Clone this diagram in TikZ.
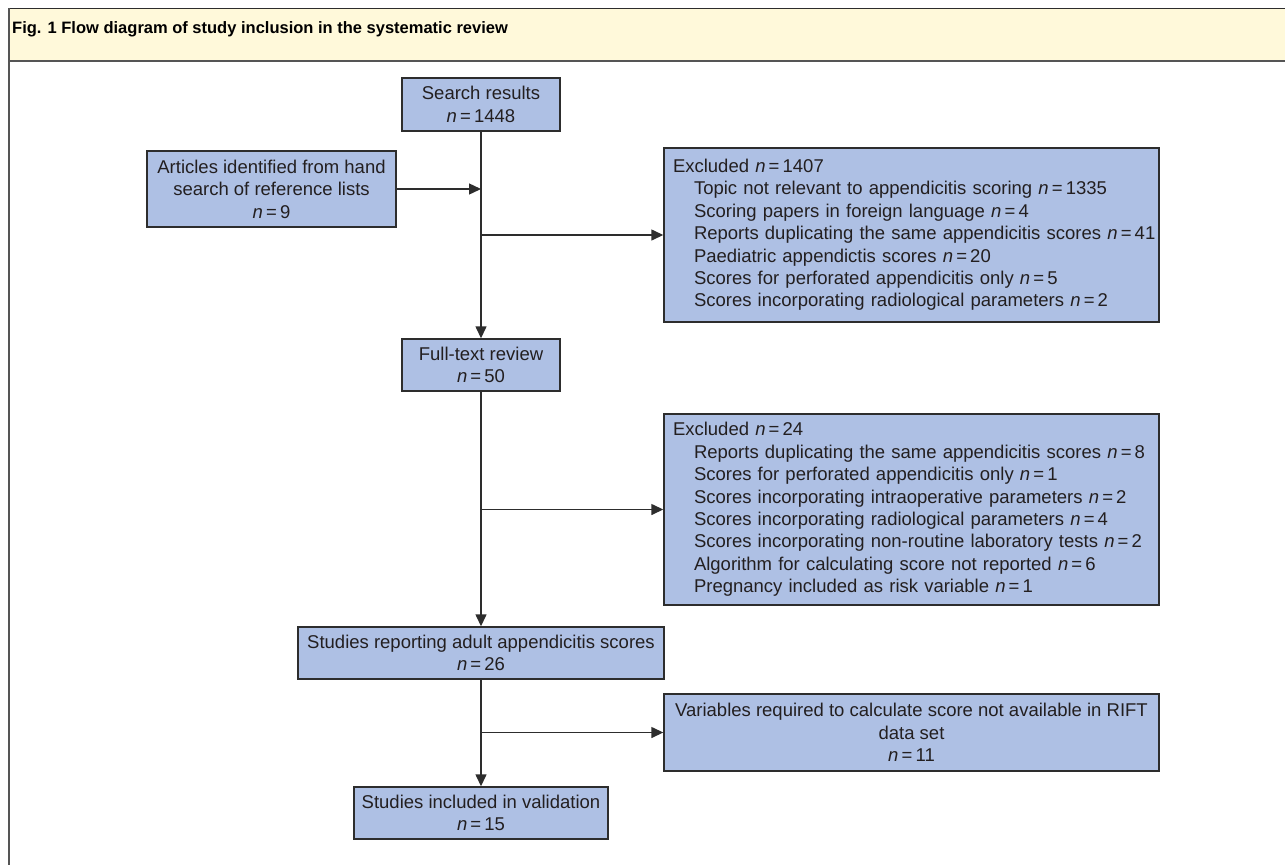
\documentclass[tikz,border=0pt]{standalone}
\usepackage{fontspec}
\setmainfont{Liberation Sans}
\usetikzlibrary{arrows.meta}
\definecolor{boxfill}{RGB}{174,192,228}
\definecolor{hdrfill}{RGB}{255,249,218}
\definecolor{linecol}{RGB}{45,45,45}
\definecolor{framecol}{RGB}{85,85,85}
\definecolor{txtcol}{RGB}{35,31,32}
\newcommand{\nval}[1]{\mbox{\textit{n}\hspace{0.17em}=\hspace{0.17em}#1}}
\newcommand{\ind}{\hspace*{27.5pt}}
\newcommand{\fst}{\hspace*{6.5pt}}
\begin{document}
\begin{tikzpicture}[x=1pt,y=-1pt,
  box/.style={draw=linecol, line width=1.4pt, fill=boxfill, text=txtcol,
    font=\fontsize{18.5}{22.4}\selectfont, align=center, inner sep=0pt},
  listbox/.style={box, align=left, inner xsep=2.5pt, text width=490pt},
  arr/.style={draw=linecol, line width=1.4pt, -{Triangle[length=12pt,width=11pt]}},
]
\useasboundingbox (0,0) rectangle (1285,865);
% header band and frame
\fill[hdrfill] (8,9) rectangle (1285,61);
\draw[line width=1.2pt, color=linecol] (8,8.6) -- (1285,8.6);
\draw[line width=2pt, color=framecol] (8,61) -- (1285,61);
\draw[line width=2pt, color=framecol] (9,8) -- (9,865);
\node[anchor=base west, inner sep=0pt, text=black,
  font=\fontsize{16.5}{20}\selectfont\bfseries] (title) at (12,33.5)
  {Fig. 1 Flow diagram of study inclusion in the systematic review};

% boxes
\node[box, minimum width=158pt, minimum height=53pt] (search) at (481,104.5)
  {Search results\\\nval{1448}};
\node[box, minimum width=249pt, minimum height=76pt] (articles) at (271.5,189)
  {Articles identified from hand\\search of reference lists\\\nval{9}};
\node[listbox, minimum height=174pt] (exc1) at (911.5,235)
  {\fst Excluded \nval{1407}\\
   \ind Topic not relevant to appendicitis scoring \nval{1335}\\
   \ind Scoring papers in foreign language \nval{4}\\
   \ind Reports duplicating the same appendicitis scores \nval{41}\\
   \ind Paediatric appendictis scores \nval{20}\\
   \ind Scores for perforated appendicitis only \nval{5}\\
   \ind Scores incorporating radiological parameters \nval{2}};
\node[box, minimum width=158pt, minimum height=52pt] (fulltext) at (481,365)
  {Full-text review\\\nval{50}};
\node[listbox, minimum height=191pt] (exc2) at (911.5,509.5)
  {\fst Excluded \nval{24}\\
   \ind Reports duplicating the same appendicitis scores \nval{8}\\
   \ind Scores for perforated appendicitis only \nval{1}\\
   \ind Scores incorporating intraoperative parameters \nval{2}\\
   \ind Scores incorporating radiological parameters \nval{4}\\
   \ind Scores incorporating non-routine laboratory tests \nval{2}\\
   \ind Algorithm for calculating score not reported \nval{6}\\
   \ind Pregnancy included as risk variable \nval{1}};
\node[box, minimum width=366pt, minimum height=52pt] (adult) at (481,653)
  {Studies reporting adult appendicitis scores\\\nval{26}};
\node[box, minimum width=495pt, minimum height=77pt] (variables) at (911.5,732.5)
  {Variables required to calculate score not available in RIFT\\data set\\\nval{11}};
\node[box, minimum width=254pt, minimum height=52pt] (included) at (481,813)
  {Studies included in validation\\\nval{15}};

% connectors
\draw[arr] (search) -- (fulltext);
\draw[arr] (articles.east) -- (articles.east -| search.south);
\draw[arr] (search.south |- exc1.west) -- (exc1.west);
\draw[arr] (fulltext) -- (adult);
\draw[arr] (fulltext.south |- exc2.west) -- (exc2.west);
\draw[arr] (adult) -- (included);
\draw[arr] (adult.south |- variables.west) -- (variables.west);
\end{tikzpicture}
\end{document}
